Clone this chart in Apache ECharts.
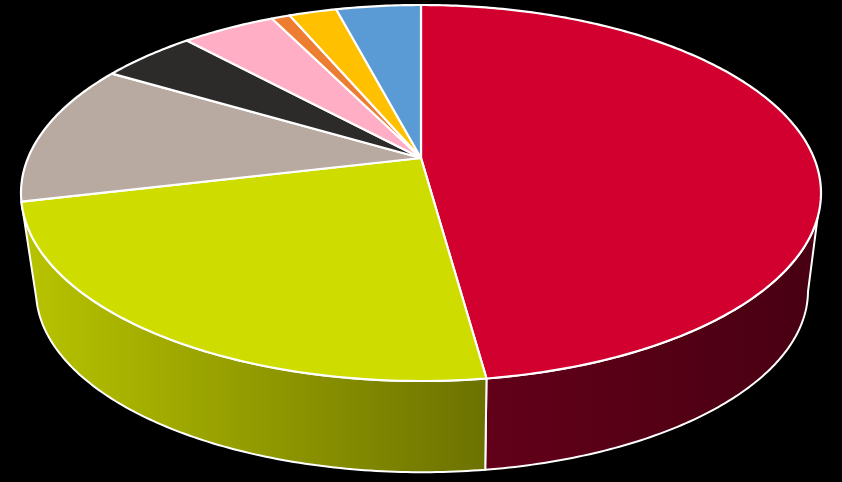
<!DOCTYPE html>
<html>
<head>
<meta charset="utf-8">
<style>html,body{margin:0;padding:0;background:#000}#c{width:842px;height:482px}</style>
<script src="https://cdn.jsdelivr.net/npm/echarts@6/dist/echarts.min.js"></script>
</head>
<body>
<div id="c"></div>
<script>
// Slice shares in percent, clockwise from 12 o'clock
const sliceNames = ['A','B','C','D','E','F','G','H'];
const sliceShares = [47.83, 23.47, 12.2, 4.65, 4.55, 0.9, 2.3, 4.1];
const topColors = ['#D2002E','#CEDC00','#B8A9A1','#2D2A2A','#FFAEC6','#ED7D31','#FFC000','#5B9BD5'];
// wall gradient stops (left, right) for the two slices with a visible wall
const wallColors = {0:['#620019','#480012'], 1:['#B8C400','#6C7200']};

const chart = echarts.init(document.getElementById('c'), null, {renderer:'canvas'});
const cx = 421, botCx = 422, topApexY = 158, botApexY = 257, A = 393, B = 181.5, K = 0.1862, S = 0.965;

function project(deg, bottom) {
  const r = deg * Math.PI / 180, u = Math.sin(r), v = Math.cos(r);
  const f = 1 + K * v, s = bottom ? S : 1;
  return [(bottom ? botCx : cx) + s * A * u / f, (bottom ? botApexY : topApexY) - s * B * v / f];
}
function arc(a0, a1, bottom) {
  const n = Math.max(2, Math.ceil(Math.abs(a1 - a0) / 0.75)), pts = [];
  for (let i = 0; i <= n; i++) pts.push(project(a0 + (a1 - a0) * i / n, bottom));
  return pts;
}
let acc = 0;
const rows = sliceShares.map(v => { const r = [acc, acc + v]; acc += v; return r; });
const total = acc;

function renderTop(params, api) {
  const a0 = api.value(0) / total * 360, a1 = api.value(1) / total * 360;
  return {
    type: 'polygon',
    shape: {points: [[cx, topApexY]].concat(arc(a0, a1, false))},
    style: {fill: topColors[params.dataIndex], stroke: '#fff', lineWidth: 2.2, lineJoin: 'round'}
  };
}
function renderWall(params, api) {
  const i = params.dataIndex, cols = wallColors[i];
  if (!cols) return null;
  const a0 = api.value(0) / total * 360, a1 = api.value(1) / total * 360;
  // only the front of the drum is visible
  const t0 = Math.max(a0, 108), b0 = Math.max(a0, 101);
  const pts = arc(t0, a1, false).concat(arc(a1, b0, true));
  const xs = pts.map(p => p[0]), x0 = Math.min.apply(null, xs), x1 = Math.max.apply(null, xs);
  return {
    type: 'polygon',
    shape: {points: pts},
    style: {
      fill: new echarts.graphic.LinearGradient(x0, 0, x1, 0, [
        {offset: 0, color: cols[0]}, {offset: 1, color: cols[1]}
      ], true),
      stroke: '#fff', lineWidth: 2, lineJoin: 'round'
    }
  };
}
chart.setOption({
  backgroundColor: '#000000',
  animation: false,
  tooltip: {show: false},
  series: [
    {type: 'custom', name: 'wall', coordinateSystem: 'none', renderItem: renderWall, data: rows, silent: true, clip: false, z: 1},
    {type: 'custom', name: 'top', coordinateSystem: 'none', renderItem: renderTop, data: rows, silent: true, clip: false, z: 2}
  ]
});
</script>
</body>
</html>
